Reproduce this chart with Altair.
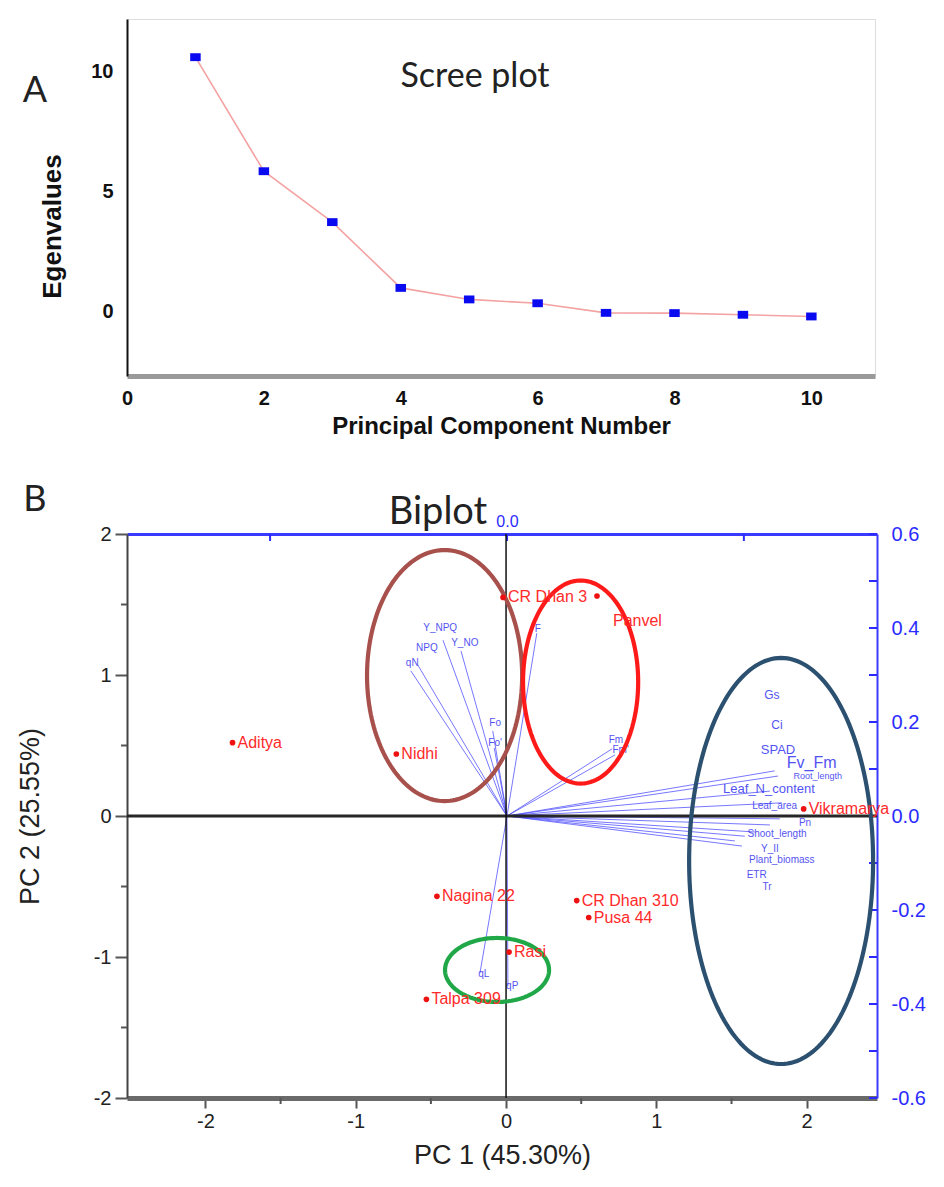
import altair as alt
import numpy as np
import pandas as pd

# ---------------- data ----------------
# Scree plot
pc_number = [1, 2, 3, 4, 5, 6, 7, 8, 9, 10]
eigenvalues = [10.58, 5.83, 3.71, 0.97, 0.49, 0.33, -0.07, -0.08, -0.15, -0.22]
scree_x_ticks = [0, 2, 4, 6, 8, 10]
scree_y_ticks = [0, 5, 10]

# Biplot scores (genotypes)
genotypes = ["Aditya", "Nidhi", "CR Dhan 3", "Panvel", "Nagina 22",
             "CR Dhan 310", "Pusa 44", "Rasi", "Talpa 309", "Vikramarya"]
pc1_scores = [-1.82, -0.73, -0.02, 0.605, -0.46, 0.47, 0.55, 0.02, -0.53, 1.98]
pc2_scores = [0.52, 0.44, 1.55, 1.56, -0.57, -0.60, -0.72, -0.965, -1.30, 0.05]

# Biplot loadings: arrow tips
arrow_vars = ["Y_NPQ", "NPQ", "Y_NO", "qN", "Fo", "Fo'", "F", "Fm", "Fm'", "qL", "qP",
              "Fv_Fm", "Root_length", "Leaf_N_content", "Leaf_area", "Pn",
              "Shoot_length", "Y_II", "Plant_biomass", "ETR", "Tr"]
arrow_pc1 = [-0.135, -0.188, -0.097, -0.203, -0.030, -0.027, 0.063, 0.222, 0.228, -0.057, 0.002,
             0.565, 0.572, 0.555, 0.580, 0.576, 0.555, 0.496, 0.523, 0.481, 0.502]
arrow_pc2 = [0.374, 0.321, 0.351, 0.309, 0.181, 0.145, 0.389, 0.143, 0.130, -0.334, -0.362,
             0.096, 0.085, 0.053, 0.028, -0.006, -0.019, -0.064, -0.034, -0.053, -0.043]

# Biplot loadings: label positions
label_vars = ["Y_NPQ", "NPQ", "Y_NO", "qN", "Fo", "Fo'", "F", "Fm", "Fm'", "qL", "qP",
              "Gs", "Ci", "SPAD", "Fv_Fm", "Root_length", "Leaf_N_content", "Leaf_area", "Pn",
              "Shoot_length", "Y_II", "Plant_biomass", "ETR", "Tr"]
label_pc1 = [-0.141, -0.169, -0.089, -0.200, -0.025, -0.025, 0.065, 0.230, 0.240, -0.049, 0.011,
             0.559, 0.570, 0.572, 0.643, 0.656, 0.553, 0.565, 0.629,
             0.570, 0.555, 0.580, 0.527, 0.549]
label_pc2 = [0.400, 0.357, 0.368, 0.326, 0.198, 0.155, 0.398, 0.162, 0.140, -0.336, -0.362,
             0.257, 0.194, 0.140, 0.113, 0.086, 0.058, 0.021, -0.015,
             -0.038, -0.070, -0.094, -0.126, -0.151]

# Group ellipses (score units)
ellipse_names = ["brown", "red", "navy", "green"]
ellipse_cx = [-0.409, 0.496, 1.830, -0.060]
ellipse_cy = [0.996, 0.950, -0.319, -1.092]
ellipse_rx = [0.516, 0.383, 0.612, 0.346]
ellipse_ry = [0.890, 0.720, 1.440, 0.227]

# axis tick lists
score_x_ticks = [-2, -1, 0, 1, 2]
score_x_minor = [-1.5, -0.5, 0.5, 1.5]
score_y_ticks = [-2, -1, 0, 1, 2]
score_y_minor = [-1.5, -0.5, 0.5, 1.5]
load_y_ticks = [-0.6, -0.4, -0.2, 0.0, 0.2, 0.4, 0.6]
load_y_all_ticks = [-0.6, -0.5, -0.4, -0.3, -0.2, -0.1, 0.0, 0.1, 0.2, 0.3, 0.4, 0.5, 0.6]
load_x_ticks = [-0.5, 0.0, 0.5]

# ---------------- styles ----------------
FONT = "Liberation Sans"
TFONT = "Lato"
LABEL_SIZE = {"Gs": 12, "Ci": 12, "SPAD": 13, "Fv_Fm": 16, "Leaf_N_content": 13,
              "Root_length": 9}
ELLIPSE_COLORS = ["#a8504c", "#ff1a1a", "#2c5070", "#20a848"]
INT_LABEL = "datum.value < 0 ? '-' + format(-datum.value, 'd') : format(datum.value, 'd')"
DEC_LABEL = "datum.value < -0.001 ? '-' + format(-datum.value, '.1f') : format(abs(datum.value), '.1f')"

# ---------------- scree plot ----------------
W1, H1 = 748, 357
scree_df = pd.DataFrame({"pc": pc_number, "eig": eigenvalues})
sx1 = alt.Scale(domain=[0, 10.93], nice=False, zero=False)
sy1 = alt.Scale(domain=[-2.7, 12.17], nice=False, zero=False)
ax1 = alt.Axis(values=scree_x_ticks, title="Principal Component Number", grid=False,
               labelFont=FONT, labelFontSize=20, labelFontWeight="bold", labelColor="#111",
               titleFont=FONT, titleFontSize=24, titleFontWeight="bold", titleColor="#111",
               domainColor="#9a9a9a", domainWidth=5, ticks=False, labelPadding=12,
               titlePadding=6, labelFlush=False)
ay1 = alt.Axis(values=scree_y_ticks, title="Egenvalues", grid=False,
               labelFont=FONT, labelFontSize=20, labelFontWeight="bold", labelColor="#111",
               titleFont=FONT, titleFontSize=26, titleFontWeight="bold", titleColor="#111",
               domainColor="#111", domainWidth=2, ticks=False, labelPadding=14,
               titleX=-75, titleY=207, titleAngle=270, titleAlign="center",
               titleBaseline="middle")
X1 = alt.X("pc:Q", scale=sx1, axis=ax1)
Y1 = alt.Y("eig:Q", scale=sy1, axis=ay1)
scree_line = alt.Chart(scree_df).mark_line(color="#f4a3a3", strokeWidth=1.6).encode(x=X1, y=Y1)
scree_pts = alt.Chart(scree_df).mark_point(
    shape="M-1,-0.75L1,-0.75L1,0.75L-1,0.75Z", filled=True, color="#0a0af0",
    size=110, opacity=1).encode(x=X1, y=Y1)
letter_a = alt.Chart(pd.DataFrame({"t": ["A"]})).mark_text(
    font=TFONT, fontSize=36, color="#222", align="center", baseline="middle").encode(
    text="t:N", x=alt.value(-92), y=alt.value(72))
scree_title = alt.Chart(pd.DataFrame({"t": ["Scree plot"]})).mark_text(
    font=TFONT, fontSize=34, color="#222", align="center", baseline="middle").encode(
    text="t:N", x=alt.value(348), y=alt.value(58))
scree = alt.layer(scree_line, scree_pts, letter_a, scree_title).properties(width=W1, height=H1)

# ---------------- biplot ----------------
W2, H2 = 750, 564
SX = alt.Scale(domain=[-2.522, 2.468], nice=False, zero=False)
SY = alt.Scale(domain=[-2, 2], nice=False, zero=False)
LX = alt.Scale(domain=[-0.802, 0.781], nice=False, zero=False)
LY = alt.Scale(domain=[-0.6, 0.6], nice=False, zero=False)

AX_B = alt.Axis(orient="bottom", values=score_x_ticks, title="PC 1 (45.30%)", grid=False,
                labelExpr=INT_LABEL,
                labelFont=FONT, labelFontSize=20, labelColor="#222", labelPadding=3,
                titleFont=FONT, titleFontSize=27, titleFontWeight="normal", titleColor="#222",
                titlePadding=11, tickSize=10, tickWidth=2, tickColor="#555",
                domainColor="#6a6a6a", domainWidth=5, labelFlush=False)
AX_L = alt.Axis(orient="left", values=score_y_ticks, title="PC 2 (25.55%)", grid=False,
                labelExpr=INT_LABEL,
                labelFont=FONT, labelFontSize=20, labelColor="#222", labelPadding=4,
                titleFont=FONT, titleFontSize=27, titleFontWeight="normal", titleColor="#222",
                titleX=-97, titleY=282, titleAngle=270, titleAlign="center",
                titleBaseline="middle", tickSize=12, tickWidth=2, tickColor="#555",
                domainColor="#444", domainWidth=2, labelFlush=False)
AX_R = alt.Axis(orient="right", values=load_y_ticks, title=None, grid=False,
                labelExpr=DEC_LABEL,
                labelFont=FONT, labelFontSize=20, labelColor="#2b2bff", labelPadding=14,
                tickSize=0, domainColor="#3a3aff", domainWidth=2, labelFlush=False)
AX_T = alt.Axis(orient="top", values=[0.0], format=".1f", title=None, grid=False,
                labelFont=FONT, labelFontSize=16, labelColor="#2b2bff", labelPadding=5,
                tickSize=0, domainColor="#3a3aff", domainWidth=3, labelFlush=False)

# loadings group
arrow_df = pd.DataFrame({"var": arrow_vars, "lx": arrow_pc1, "ly": arrow_pc2,
                         "ox": [0.0] * len(arrow_vars), "oy": [0.0] * len(arrow_vars)})
lab_df = pd.DataFrame({"var": label_vars, "lx": label_pc1, "ly": label_pc2})
lab_df["fs"] = [LABEL_SIZE.get(v, 10) for v in label_vars]

arrows = alt.Chart(arrow_df).mark_rule(color="#4a4aff", strokeWidth=1, opacity=0.75).encode(
    x=alt.X("ox:Q", scale=LX, axis=AX_T), y=alt.Y("oy:Q", scale=LY, axis=AX_R),
    x2="lx:Q", y2="ly:Q")
load_labels = alt.Chart(lab_df).mark_text(font=FONT, color="#3535f0", opacity=0.85,
                                          align="center", baseline="middle").encode(
    x=alt.X("lx:Q", scale=LX, axis=AX_T), y=alt.Y("ly:Q", scale=LY, axis=AX_R),
    text="var:N", size=alt.Size("fs:Q", scale=None, legend=None))
right_ticks = alt.Chart(pd.DataFrame({"ly": load_y_all_ticks})).mark_rule(
    color="#2b2bff", strokeWidth=2).encode(
    y=alt.Y("ly:Q", scale=LY, axis=AX_R), x=alt.value(W2 - 8), x2=alt.value(W2))
top_ticks = alt.Chart(pd.DataFrame({"lx": load_x_ticks})).mark_rule(
    color="#2b2bff", strokeWidth=2).encode(
    x=alt.X("lx:Q", scale=LX, axis=AX_T), y=alt.value(0), y2=alt.value(7))
layer_load = alt.layer(arrows, load_labels, right_ticks, top_ticks)

# scores group
zero_df = pd.DataFrame({"sx": [0.0], "sy": [0.0]})
zero_h = alt.Chart(zero_df).mark_rule(color="#262626", strokeWidth=3).encode(
    y=alt.Y("sy:Q", scale=SY, axis=AX_L))
zero_v = alt.Chart(zero_df).mark_rule(color="#111", strokeWidth=1.5).encode(
    x=alt.X("sx:Q", scale=SX, axis=AX_B))

t = np.linspace(0, 2 * np.pi, 181)
ell_rows = []
for name, cx, cy, rx, ry in zip(ellipse_names, ellipse_cx, ellipse_cy, ellipse_rx, ellipse_ry):
    for k, a in enumerate(t):
        ell_rows.append({"grp": name, "k": k, "sx": cx + rx * np.cos(a), "sy": cy + ry * np.sin(a)})
ell_df = pd.DataFrame(ell_rows)
ellipses = alt.Chart(ell_df).mark_line(strokeWidth=4.2).encode(
    x=alt.X("sx:Q", scale=SX, axis=AX_B), y=alt.Y("sy:Q", scale=SY, axis=AX_L),
    color=alt.Color("grp:N", scale=alt.Scale(domain=ellipse_names, range=ELLIPSE_COLORS),
                    legend=None),
    order="k:Q")

score_df = pd.DataFrame({"name": genotypes, "sx": pc1_scores, "sy": pc2_scores})
points = alt.Chart(score_df).mark_circle(size=32, color="#ee1111", opacity=1).encode(
    x=alt.X("sx:Q", scale=SX, axis=AX_B), y=alt.Y("sy:Q", scale=SY, axis=AX_L))
labels = alt.Chart(score_df).transform_filter("datum.name != 'Panvel'").mark_text(
    font=FONT, fontSize=16, color="#ff2a2a", align="left", baseline="middle", dx=5).encode(
    x=alt.X("sx:Q", scale=SX, axis=AX_B), y=alt.Y("sy:Q", scale=SY, axis=AX_L), text="name:N")
labels_pv = alt.Chart(score_df).transform_filter("datum.name == 'Panvel'").mark_text(
    font=FONT, fontSize=16, color="#ff2a2a", align="left", baseline="middle", dx=16, dy=25).encode(
    x=alt.X("sx:Q", scale=SX, axis=AX_B), y=alt.Y("sy:Q", scale=SY, axis=AX_L), text="name:N")

xminor = alt.Chart(pd.DataFrame({"sx": score_x_minor})).mark_rule(color="#555", strokeWidth=2).encode(
    x=alt.X("sx:Q", scale=SX, axis=AX_B), y=alt.value(H2), y2=alt.value(H2 + 6))
yminor = alt.Chart(pd.DataFrame({"sy": score_y_minor})).mark_rule(color="#555", strokeWidth=2).encode(
    y=alt.Y("sy:Q", scale=SY, axis=AX_L), x=alt.value(-6), x2=alt.value(0))

letter_b = alt.Chart(pd.DataFrame({"t": ["B"]})).mark_text(
    font=TFONT, fontSize=36, color="#222", align="center", baseline="middle").encode(
    text="t:N", x=alt.value(-92), y=alt.value(-34))
bi_title = alt.Chart(pd.DataFrame({"t": ["Biplot"]})).mark_text(
    font=TFONT, fontSize=38, color="#222", align="center", baseline="middle").encode(
    text="t:N", x=alt.value(311), y=alt.value(-21))

layer_score = alt.layer(zero_h, zero_v, ellipses, points, labels, labels_pv,
                        xminor, yminor, letter_b, bi_title)

biplot = alt.layer(layer_load, layer_score).resolve_scale(
    x="independent", y="independent").properties(width=W2, height=H2)

chart = alt.vconcat(scree, biplot, spacing=42).properties(
    padding={"left": 15, "top": 18, "right": 5, "bottom": 5}
).configure_view(stroke=None).configure(background="white")

chart.save("out.html", embed_options={"renderer": "svg", "actions": False})
